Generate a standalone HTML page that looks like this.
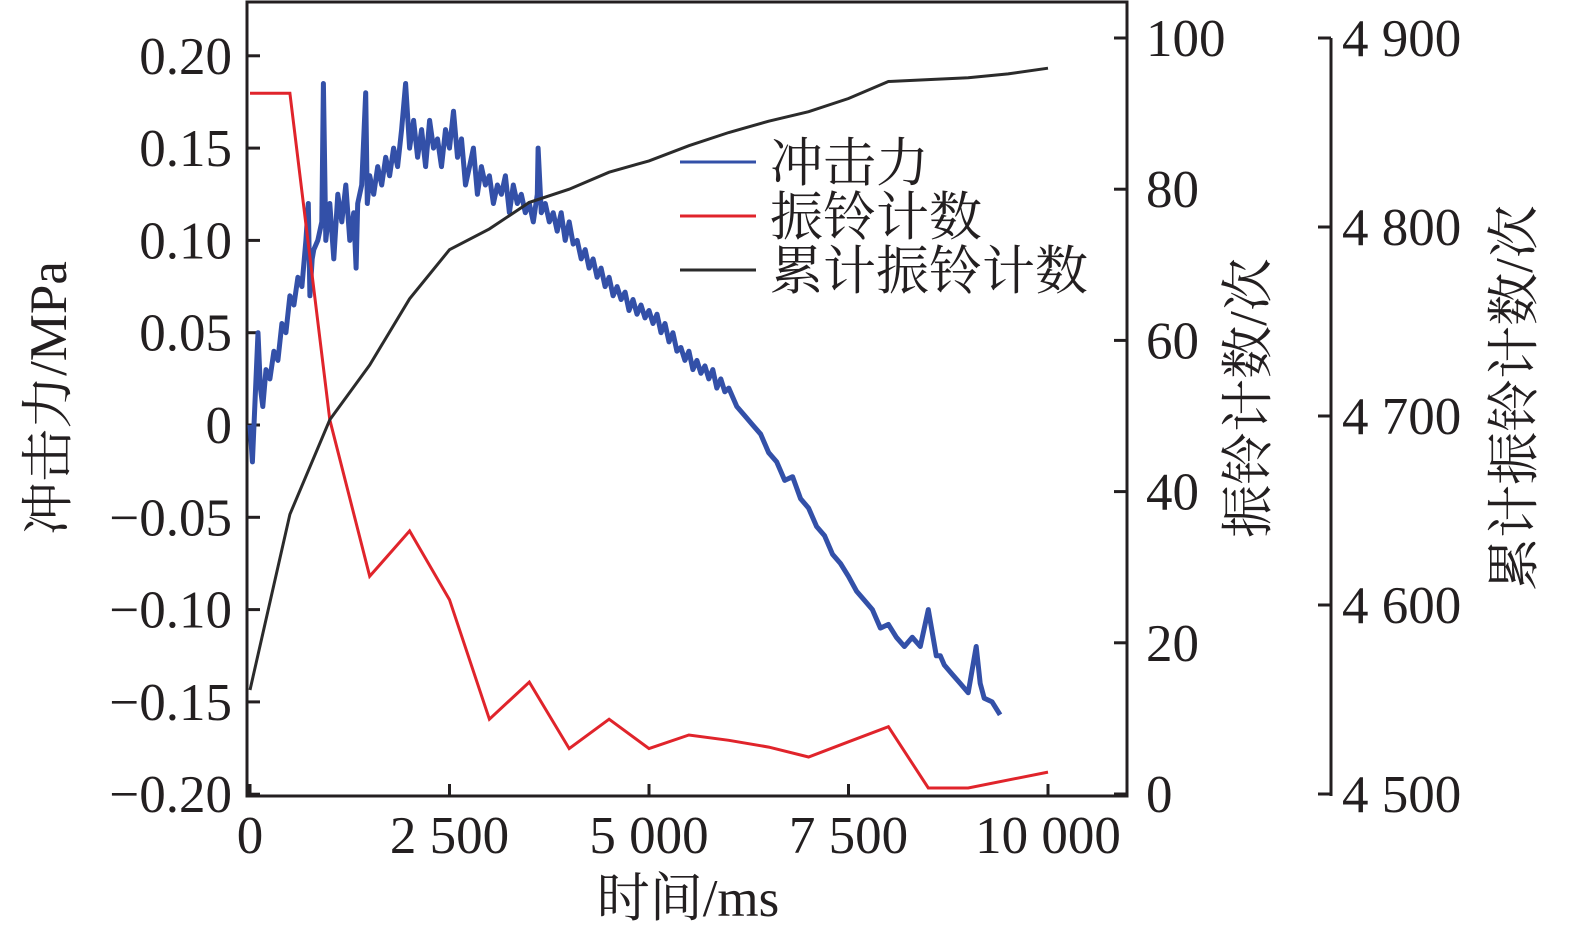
<!DOCTYPE html>
<html><head><meta charset="utf-8"><style>
html,body{margin:0;padding:0;background:#fff}
svg text{font-family:"Liberation Serif","Noto Serif CJK SC","Noto Sans CJK SC",serif;fill:#231f20}
</style></head><body>
<svg id="chart" width="1575" height="938" viewBox="0 0 1575 938" xmlns="http://www.w3.org/2000/svg">
<g id="axes"></g><g id="marks"></g><g id="legend"></g>
</svg>
<script>
const timeTicks=[0,2500,5000,7500,10000];
const timeTickLabels=["0","2 500","5 000","7 500","10 000"];
const forceTicks=[0.20,0.15,0.10,0.05,0,-0.05,-0.10,-0.15,-0.20];
const forceTickLabels=["0.20","0.15","0.10","0.05","0","\u22120.05","\u22120.10","\u22120.15","\u22120.20"];
const ringTicks=[0,20,40,60,80,100];
const cumTicks=[4500,4600,4700,4800,4900];
const cumTickLabels=["4 500","4 600","4 700","4 800","4 900"];
const ringTime=[0,500,1000,1500,2000,2500,3000,3500,4000,4500,5000,5500,6000,6500,7000,7500,8000,8500,9000,10000];
const ringCount=[92.7,92.7,49.5,28.8,34.8,25.7,9.9,14.8,6,9.9,6,7.8,7.1,6.2,4.9,6.9,8.9,0.8,0.8,2.9];
const cumTime=[0,500,1000,1500,2000,2500,3000,3500,4000,4500,5000,5500,6000,6500,7000,7500,8000,8500,9000,9500,10000];
const cumCount=[4555,4648,4698,4727,4762,4788,4799,4813,4820,4829,4835,4843,4850,4856,4861,4868,4877,4878,4879,4881,4884];
const forceTime=[0,30,60,100,130,160,200,250,300,350,400,450,500,550,600,650,700,730,750,780,800,850,900,920,950,1000,1050,1100,1150,1200,1250,1300,1330,1350,1400,1450,1470,1500,1550,1600,1650,1700,1750,1800,1850,1900,1950,2000,2050,2100,2150,2200,2250,2300,2350,2400,2450,2500,2550,2600,2650,2700,2750,2800,2850,2900,2950,3000,3050,3100,3150,3200,3250,3300,3350,3400,3450,3500,3550,3600,3610,3650,3700,3750,3800,3850,3900,3950,4000,4050,4100,4150,4200,4250,4300,4350,4400,4450,4500,4550,4600,4650,4700,4750,4800,4850,4900,4950,5000,5050,5100,5150,5200,5250,5300,5350,5400,5450,5500,5550,5600,5650,5700,5750,5800,5850,5900,5950,6000,6100,6200,6300,6400,6500,6600,6700,6800,6900,7000,7100,7200,7300,7400,7500,7600,7700,7800,7900,8000,8100,8200,8300,8400,8500,8600,8650,8700,8800,8900,9000,9100,9150,9200,9300,9400,9500];
const forceValue=[0.0,-0.02,0.01,0.05,0.02,0.01,0.03,0.025,0.04,0.035,0.055,0.05,0.07,0.065,0.08,0.075,0.10,0.12,0.07,0.09,0.095,0.10,0.11,0.185,0.10,0.12,0.09,0.125,0.11,0.13,0.10,0.115,0.085,0.12,0.13,0.18,0.12,0.135,0.125,0.14,0.13,0.145,0.135,0.15,0.14,0.16,0.185,0.15,0.165,0.145,0.16,0.14,0.165,0.15,0.155,0.14,0.16,0.15,0.17,0.145,0.155,0.13,0.14,0.15,0.125,0.14,0.13,0.135,0.12,0.13,0.125,0.135,0.115,0.13,0.12,0.125,0.115,0.12,0.11,0.125,0.15,0.115,0.12,0.11,0.115,0.105,0.115,0.10,0.11,0.098,0.10,0.09,0.095,0.085,0.09,0.08,0.085,0.075,0.08,0.07,0.075,0.068,0.072,0.062,0.068,0.06,0.065,0.058,0.062,0.055,0.06,0.05,0.055,0.045,0.05,0.04,0.042,0.035,0.04,0.03,0.035,0.028,0.032,0.025,0.03,0.02,0.025,0.018,0.02,0.01,0.005,0.0,-0.005,-0.015,-0.02,-0.03,-0.028,-0.04,-0.045,-0.055,-0.06,-0.07,-0.075,-0.082,-0.09,-0.095,-0.10,-0.11,-0.108,-0.115,-0.12,-0.115,-0.12,-0.10,-0.125,-0.125,-0.13,-0.135,-0.14,-0.145,-0.12,-0.14,-0.148,-0.15,-0.157];

const NS="http://www.w3.org/2000/svg";
const X0=250,X1=1048;
const xs=t=>X0+(t/10000)*(X1-X0);
const yF=v=>425-v*1846;
const yR=v=>794-(v/100)*(794-38);
const yC=v=>794-((v-4500)/400)*(794-38);
function mk(tag,attrs,parent,txt){const e=document.createElementNS(NS,tag);for(const k in attrs)e.setAttribute(k,attrs[k]);if(txt!==undefined)e.textContent=txt;parent.appendChild(e);return e;}
const axes=document.getElementById('axes'),marks=document.getElementById('marks'),leg=document.getElementById('legend');
const st={stroke:"#231f20","stroke-width":3,fill:"none"};
const FS=53;
let e;
e=mk('rect',Object.assign({x:247,y:2,width:880,height:794},st),axes);


e=mk('line',Object.assign({x1:1331,y1:38,x2:1331,y2:796},st),axes);


timeTicks.forEach((t,i)=>{
 mk('line',Object.assign({x1:xs(t),y1:796,x2:xs(t),y2:784},st),axes);
 e=mk('text',{x:xs(t),y:853,"font-size":FS,"text-anchor":"middle"},axes,timeTickLabels[i]);
 
 
});
forceTicks.forEach((v,i)=>{
 mk('line',Object.assign({x1:247,y1:yF(v),x2:260,y2:yF(v)},st),axes);
 e=mk('text',{x:232,y:yF(v)+18,"font-size":FS,"text-anchor":"end"},axes,forceTickLabels[i]);
 
 
});
ringTicks.forEach(v=>{
 mk('line',Object.assign({x1:1127,y1:yR(v),x2:1114,y2:yR(v)},st),axes);
 e=mk('text',{x:1146,y:yR(v)+18,"font-size":FS},axes,String(v));
 
 
});
cumTicks.forEach((v,i)=>{
 mk('line',Object.assign({x1:1318,y1:yC(v),x2:1331,y2:yC(v)},st),axes);
 e=mk('text',{x:1342,y:yC(v)+18,"font-size":FS},axes,cumTickLabels[i]);
 
 
});
e=mk('text',{x:688,y:916,"font-size":FS,"text-anchor":"middle"},axes,"时间/ms");


e=mk('text',{x:0,y:0,"font-size":FS,"text-anchor":"middle",transform:"translate(66,398) rotate(-90)"},axes,"冲击力/MPa");


e=mk('text',{x:0,y:0,"font-size":FS,"text-anchor":"middle",transform:"translate(1266,398) rotate(-90)"},axes,"振铃计数/次");


e=mk('text',{x:0,y:0,"font-size":FS,"text-anchor":"middle",transform:"translate(1532,398) rotate(-90)"},axes,"累计振铃计数/次");



const path=(ts,vs,fy)=>ts.map((t,i)=>(i?'L':'M')+xs(t).toFixed(1)+','+fy(vs[i]).toFixed(1)).join('');
e=mk('path',{d:path(forceTime,forceValue,yF),stroke:"#3350a8","stroke-width":5,fill:"none","stroke-linejoin":"round"},marks);


e=mk('path',{d:path(ringTime,ringCount,yR),stroke:"#e0242b","stroke-width":3,fill:"none"},marks);


e=mk('path',{d:path(cumTime,cumCount,yC),stroke:"#2b2b2b","stroke-width":3,fill:"none"},marks);



[["冲击力","#3350a8",162],["振铃计数","#e0242b",216],["累计振铃计数","#2b2b2b",270]].forEach(([n,c,y])=>{
 e=mk('line',{x1:680,y1:y,x2:756,y2:y,stroke:c,"stroke-width":3},leg);
 
 
 e=mk('text',{x:770,y:y+19,"font-size":FS},leg,n);
 
 
});
</script>
</body></html>
